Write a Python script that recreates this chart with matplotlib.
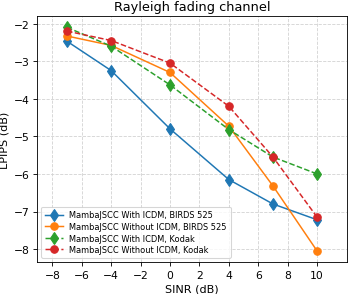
import matplotlib.pyplot as plt

# datos
sinr = [-7, -4, 0, 4, 7, 10]
con_icdm_birds = [-2.47, -3.25, -4.80, -6.15, -6.80, -7.22]
sin_icdm_birds = [-2.33, -2.58, -3.30, -4.73, -6.32, -8.05]
con_icdm_kodak = [-2.10, -2.60, -3.63, -4.82, -5.55, -6.00]
sin_icdm_kodak = [-2.20, -2.45, -3.05, -4.20, -5.55, -7.15]

etiquetas = [
    "MambaJSCC With ICDM, BIRDS 525",
    "MambaJSCC Without ICDM, BIRDS 525",
    "MambaJSCC With ICDM, Kodak",
    "MambaJSCC Without ICDM, Kodak",
]

# figura "grande" guardada a dpi bajo -> 351x295 px
fig, ax = plt.subplots(figsize=(4.56, 3.83), dpi=77)

ax.plot(sinr, con_icdm_birds, '-', marker='d', color='tab:blue', lw=1.4, ms=8, label=etiquetas[0])
ax.plot(sinr, sin_icdm_birds, '-', marker='o', color='tab:orange', lw=1.4, ms=7, label=etiquetas[1])
ax.plot(sinr, con_icdm_kodak, '--', marker='d', color='tab:green', lw=1.4, ms=8, label=etiquetas[2])
ax.plot(sinr, sin_icdm_kodak, '--', marker='o', color='tab:red', lw=1.4, ms=7, label=etiquetas[3])

ax.set_xlim(-9.05, 12.05)
ax.set_xticks(range(-8, 11, 2))
ax.set_title("Rayleigh fading channel", fontsize=12)
ax.set_xlabel("SINR (dB)", fontsize=10.5)
ax.set_ylabel("LPIPS (dB)", fontsize=10.5)
ax.tick_params(labelsize=10)
ax.grid(True, linestyle='--', color='lightgray', lw=0.8)
ax.legend(loc='lower left', fontsize=7.7, handlelength=2.2, borderpad=0.45, labelspacing=0.32)

plt.subplots_adjust(left=0.105, right=0.989, top=0.942, bottom=0.108)
fig.savefig("out.png", dpi=77)
